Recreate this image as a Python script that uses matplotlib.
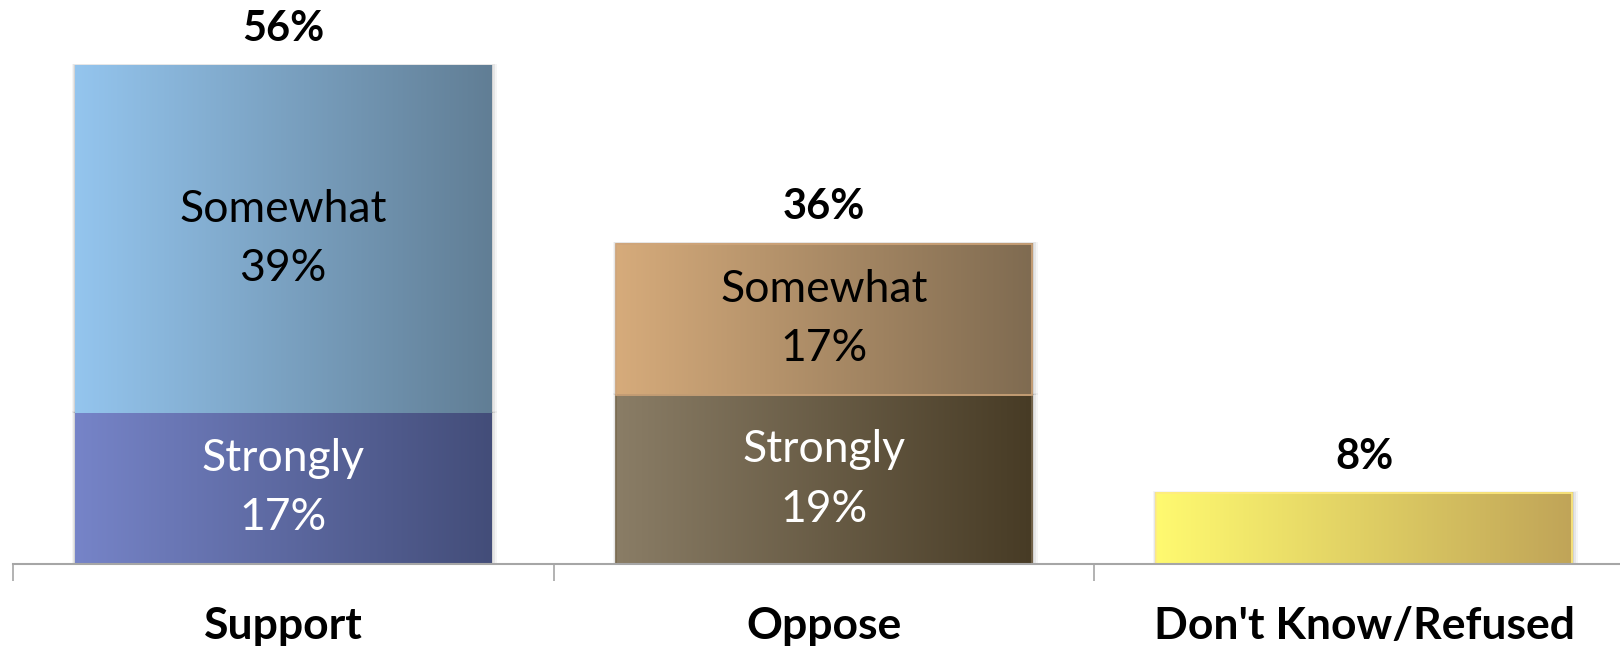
import numpy as np
import matplotlib
matplotlib.use("Agg")
import matplotlib.pyplot as plt
from matplotlib.colors import LinearSegmentedColormap
from matplotlib.patches import Rectangle

plt.rcParams['font.family'] = ['Lato', 'DejaVu Sans']

categories = ["Support", "Oppose", "Don't Know/Refused"]
strongly = [17, 19, 8]
somewhat = [39, 17, 0]
totals = [56, 36, 8]
seg_label_strong = ["Strongly", "Strongly", None]
seg_label_some = ["Somewhat", "Somewhat", None]

# gradient colours (left, right) for each segment
grad_strong = [("#7684C8", "#434D79"), ("#8A7D66", "#473B25"), ("#FFFA70", "#C0A458")]
grad_some = [("#94C5EE", "#617E95"), ("#D6AB7B", "#7F6B51"), None]
text_strong = ["white", "white", None]
text_some = ["black", "black", None]
edge_strong = ["none", "#7A6A50", "#FFEB80"]
edge_some = ["none", "#CFA57A", None]

fig = plt.figure(figsize=(16.2, 6.47), dpi=100)
W, H = 1620, 647
ax_left = 13 / W
ax_bottom = (H - 564) / H
ax_width = 1621.5 / W
ymax = 60
px_per = 8.9
ax_height = ymax * px_per / H
ax = fig.add_axes([ax_left, ax_bottom, ax_width, ax_height])

x = np.arange(len(categories))
bw = 0.77

def grad_fill(patch, c1, c2, edge):
    if patch.get_height() <= 0:
        return
    x0, y0 = patch.get_x(), patch.get_y()
    w, h = patch.get_width(), patch.get_height()
    # soft shadow
    for k, a in [(6, 0.04), (4, 0.06), (2, 0.08)]:
        dx = k / 540.5
        dy = k / px_per
        sh = Rectangle((x0 - dx * 0.5, y0), w + dx * 1.5, h + dy * 0.3,
                       facecolor="#000000", alpha=a, edgecolor="none", zorder=1)
        ax.add_patch(sh)
    cmap = LinearSegmentedColormap.from_list("g", [c1, c2])
    g = np.linspace(0, 1, 256).reshape(1, -1)
    ax.imshow(g, cmap=cmap, extent=(x0, x0 + w, y0, y0 + h),
              aspect="auto", zorder=2, interpolation="bilinear")
    if edge and edge != "none":
        ax.add_patch(Rectangle((x0, y0), w, h, facecolor="none",
                               edgecolor=edge, linewidth=1.2, zorder=3))

bars_s = ax.bar(x, strongly, width=bw, color="none", edgecolor="none", zorder=2)
bars_w = ax.bar(x, somewhat, width=bw, bottom=strongly, color="none",
                edgecolor="none", zorder=2)

for i, p in enumerate(bars_s):
    c1, c2 = grad_strong[i]
    grad_fill(p, c1, c2, edge_strong[i])
for i, p in enumerate(bars_w):
    if grad_some[i] is None:
        continue
    c1, c2 = grad_some[i]
    grad_fill(p, c1, c2, edge_some[i])

# segment labels
for i in range(len(categories)):
    if seg_label_strong[i]:
        ax.text(x[i], strongly[i] / 2, f"{seg_label_strong[i]}\n{strongly[i]}%",
                ha="center", va="center", fontsize=32, color=text_strong[i],
                linespacing=1.55, zorder=5)
    if seg_label_some[i] and somewhat[i] > 0:
        ax.text(x[i], strongly[i] + somewhat[i] / 2, f"{seg_label_some[i]}\n{somewhat[i]}%",
                ha="center", va="center", fontsize=32, color=text_some[i],
                linespacing=1.55, zorder=5)

# totals
for i in range(len(categories)):
    ax.annotate(f"{totals[i]}%", (x[i], totals[i]), xytext=(0, 26),
                textcoords="offset points", ha="center", va="center",
                fontsize=30, fontweight="bold", color="black", zorder=5,
                annotation_clip=False)

ax.set_xlim(-0.5, len(categories) - 0.5)
ax.set_ylim(0, ymax)
for s in ["top", "right", "left"]:
    ax.spines[s].set_visible(False)
ax.spines["bottom"].set_color("#A6A6A6")
ax.spines["bottom"].set_linewidth(1.5)
ax.spines["bottom"].set_zorder(6)
ax.set_yticks([])
ax.set_xticks(np.arange(-0.5, len(categories), 1.0))
ax.set_xticklabels([])
ax.tick_params(axis="x", length=12, width=1.2, color="#A6A6A6", direction="out")
ax.patch.set_alpha(0)

for i, c in enumerate(categories):
    ax.annotate(c, (x[i], 0), xytext=(0, -54), textcoords="offset points",
                ha="center", va="baseline", fontsize=32, fontweight="bold",
                color="black", annotation_clip=False)

fig.savefig("out.png", dpi=100)
